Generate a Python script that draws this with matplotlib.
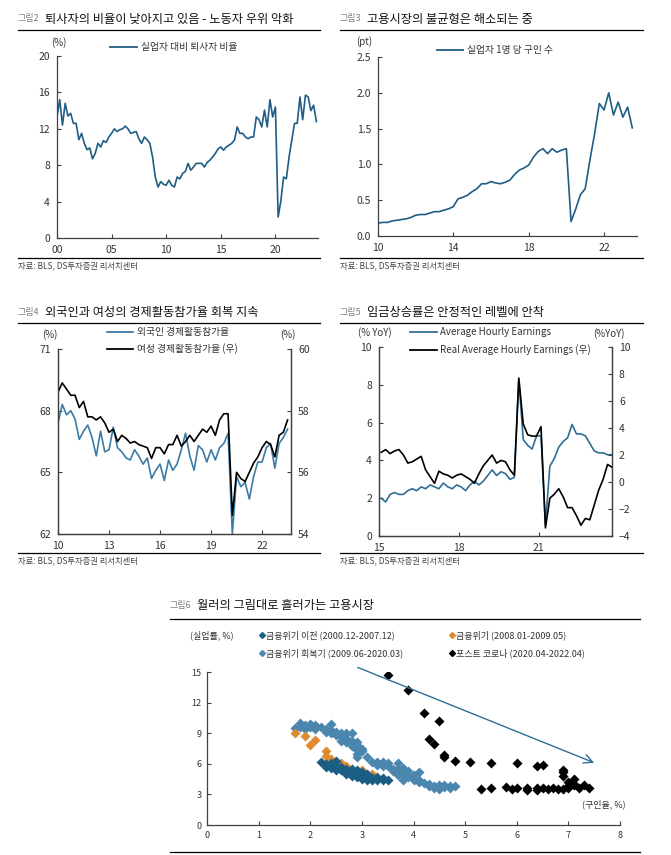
import numpy as np
import matplotlib
matplotlib.use("Agg")
import matplotlib.pyplot as plt
from matplotlib.lines import Line2D

plt.rcParams['font.family'] = ['Noto Sans CJK KR', 'DejaVu Sans']

# ---- data ----
# 그림2: 실업자 대비 퇴사자 비율 (%), quarterly from 2000
quits_start = 2000
quits_ratio = [13.3, 15.2, 12.4, 14.8, 13.4, 13.7, 12.6, 12.6,
               10.8, 11.5, 10.4, 9.7, 9.9, 8.7, 9.3, 10.4,
               10.0, 10.7, 10.5, 11.1, 11.5, 12.0, 11.7, 11.9,
               12.0, 12.3, 12.0, 11.5, 11.6, 11.7, 10.9, 10.4,
               11.1, 10.8, 10.4, 8.9, 6.7, 5.6, 6.2, 5.9,
               5.8, 6.35, 5.8, 5.6, 6.7, 6.5, 7.1, 7.3,
               8.2, 7.45, 7.8, 8.2, 8.2, 8.2, 7.8, 8.3,
               8.55, 8.9, 9.3, 9.8, 10.0, 9.65, 10.0, 10.2,
               10.4, 10.75, 12.2, 11.5, 11.5, 11.1, 10.9, 11.1,
               11.1, 13.3, 13.0, 12.2, 14.05, 12.2, 15.2, 13.3,
               14.4, 2.3, 4.1, 6.7, 6.5, 8.9, 10.75, 12.6,
               12.6, 15.5, 13.0, 15.7, 15.5, 14.0, 14.6, 12.8]

# 그림3: 실업자 1명 당 구인 수 (pt), quarterly from 2010
ratio_start = 2010
openings_per_unemp = [0.18, 0.19, 0.19, 0.21, 0.22, 0.23, 0.24, 0.26,
                      0.29, 0.30, 0.30, 0.32, 0.34, 0.34, 0.36, 0.38,
                      0.41, 0.52, 0.54, 0.57, 0.62, 0.66, 0.73, 0.73,
                      0.76, 0.74, 0.73, 0.75, 0.78, 0.86, 0.92, 0.95,
                      0.99, 1.10, 1.18, 1.22, 1.15, 1.22, 1.17, 1.20,
                      1.22, 0.20, 0.38, 0.58, 0.66, 1.06, 1.43, 1.85,
                      1.76, 2.00, 1.69, 1.87, 1.66, 1.80, 1.51]

# 그림4: 경제활동참가율, quarterly from 2010
lfpr_start = 2010
foreign_lfpr = [67.4, 68.3, 67.8, 68.0, 67.6, 66.6, 67.0, 67.3,
                66.7, 65.8, 67.0, 66.0, 66.1, 67.2, 66.2, 66.0,
                65.7, 65.6, 66.1, 65.8, 65.4, 65.7, 64.7, 65.1,
                65.4, 64.6, 65.6, 65.1, 65.4, 66.1, 66.9, 65.8,
                65.1, 66.3, 66.1, 65.5, 66.1, 65.6, 66.2, 66.4,
                66.9, 62.0, 64.8, 64.3, 64.5, 63.7, 64.8, 65.5,
                65.5, 66.2, 66.4, 65.2, 66.4, 66.7, 67.1]
women_lfpr = [58.6, 58.9, 58.7, 58.5, 58.5, 58.1, 58.3, 57.8,
              57.8, 57.7, 57.8, 57.6, 57.3, 57.4, 57.0, 57.2,
              57.1, 56.95, 57.0, 56.9, 56.85, 56.8, 56.45, 56.8,
              56.8, 56.6, 56.9, 56.9, 57.2, 56.85, 57.0, 57.2,
              57.0, 57.2, 57.4, 57.3, 57.5, 57.2, 57.7, 57.9,
              57.9, 54.6, 56.0, 55.8, 55.7, 56.0, 56.3, 56.5,
              56.8, 57.0, 56.9, 56.5, 57.2, 57.3, 57.7]

# 그림5: 임금상승률 (% YoY), bimonthly from Feb 2015
wage_start = 2015 + 1 / 12
ahe = [2.0, 1.8, 2.2, 2.3, 2.2, 2.2,
       2.4, 2.5, 2.4, 2.6, 2.5, 2.7,
       2.6, 2.5, 2.8, 2.6, 2.5, 2.7,
       2.6, 2.4, 2.7, 2.9, 2.7, 2.9,
       3.2, 3.5, 3.2, 3.4, 3.3, 3.0,
       3.1, 8.3, 5.1, 4.8, 4.6, 5.3,
       5.3, 0.6, 3.7, 4.1, 4.7, 5.0,
       5.2, 5.9, 5.4, 5.4, 5.3, 4.9,
       4.5, 4.4, 4.4, 4.3, 4.3]
real_ahe = [2.2, 2.4, 2.1, 2.3, 2.4, 2.0,
            1.4, 1.5, 1.7, 1.9, 0.9, 0.4,
            -0.1, 0.8, 0.6, 0.5, 0.3, 0.5,
            0.6, 0.4, 0.2, -0.1, 0.6, 1.2,
            1.6, 2.0, 1.4, 1.6, 1.5, 0.9,
            0.5, 7.7, 4.3, 3.5, 3.4, 3.4,
            4.1, -3.4, -1.2, -0.9, -0.5, -1.1,
            -1.9, -1.9, -2.5, -3.2, -2.7, -2.8,
            -1.7, -0.6, 0.2, 1.3, 1.1]

# 그림6: 베버리지 곡선 (구인율, 실업률)
pre_x = [2.2, 2.3, 2.4, 2.4, 2.5, 2.5, 2.5, 2.6, 2.6, 2.6, 2.7, 2.7, 2.8, 2.8,
         2.9, 2.9, 3.0, 3.0, 3.1, 3.1, 3.2, 3.2, 3.3, 3.3, 3.4, 3.4, 3.5, 2.3,
         2.4, 2.5, 2.7, 2.8, 2.9, 3.0, 3.2, 3.1, 3.3]
pre_y = [6.2, 6.0, 5.9, 6.1, 6.3, 5.8, 5.6, 5.7, 5.5, 5.4, 5.5, 5.3, 5.5, 5.2,
         5.4, 5.0, 5.2, 4.9, 5.0, 4.7, 4.6, 4.4, 4.7, 4.5, 4.6, 4.4, 4.4, 5.7,
         5.6, 5.4, 5.0, 4.8, 4.7, 4.5, 4.6, 4.4, 4.4]
crisis_x = [1.7, 1.9, 2.0, 2.1, 2.3, 2.3, 2.3, 2.4, 2.6, 2.7, 2.7, 2.8, 3.0,
            3.0, 3.0, 3.2, 2.5]
crisis_y = [9.0, 8.7, 7.8, 8.3, 7.3, 6.8, 6.1, 6.5, 6.1, 5.8, 5.6, 5.0, 5.4,
            5.2, 4.9, 5.0, 5.9]
recov_x = [1.7, 1.8, 1.8, 1.9, 1.9, 2.0, 2.0, 2.1, 2.1, 2.2, 2.3, 2.3, 2.4, 2.4,
           2.4, 2.5, 2.6, 2.6, 2.6, 2.7, 2.7, 2.7, 2.8, 2.8, 2.8, 2.8, 2.9, 2.9,
           2.9, 2.9, 3.0, 3.0, 2.9, 3.1, 3.2, 3.3, 3.3, 3.4, 3.4, 3.5, 3.6, 3.7,
           3.7, 3.7, 3.7, 3.8, 3.8, 3.8, 3.9, 3.9, 4.0, 4.0, 4.1, 4.1, 4.1, 4.2,
           4.3, 4.3, 4.4, 4.4, 4.5, 4.5, 4.6, 4.6, 4.7, 4.7, 4.8, 3.5, 3.6, 2.5]
recov_y = [9.5, 10.0, 9.6, 9.8, 9.4, 9.9, 9.6, 9.8, 9.4, 9.6, 9.4, 9.1, 9.9, 9.3,
           9.0, 9.1, 9.0, 8.6, 8.2, 9.0, 8.5, 8.1, 9.0, 8.2, 7.9, 7.7, 8.1, 7.8,
           7.4, 7.0, 7.5, 7.3, 6.7, 6.7, 6.2, 6.2, 5.9, 6.2, 5.8, 6.1, 5.5, 6.1,
           5.5, 5.2, 4.9, 5.6, 5.0, 4.4, 5.3, 4.7, 4.9, 4.4, 5.2, 4.4, 4.2, 4.1,
           3.8, 4.0, 3.6, 3.8, 3.9, 3.5, 3.7, 3.9, 3.6, 3.8, 3.8, 5.8, 5.3, 8.8]
covid_x = [3.5, 3.9, 4.2, 4.5, 4.3, 4.4, 4.6, 4.6, 4.8, 5.1, 5.5, 6.0, 6.4, 6.5,
           6.9, 6.9, 6.9, 7.0, 7.1, 7.1, 7.2, 7.3, 7.4, 5.3, 5.5, 5.8, 5.9, 6.0,
           6.2, 6.2, 6.4, 6.4, 6.5, 6.6, 6.7, 6.8, 6.9, 7.0, 7.0, 7.1]
covid_y = [14.7, 13.2, 11.0, 10.2, 8.4, 7.9, 6.9, 6.7, 6.3, 6.2, 6.1, 6.1, 5.8, 5.9,
           5.4, 5.2, 4.8, 4.2, 4.5, 3.9, 3.6, 3.9, 3.6, 3.5, 3.6, 3.7, 3.5, 3.6,
           3.6, 3.4, 3.6, 3.4, 3.6, 3.5, 3.6, 3.5, 3.5, 3.6, 3.8, 4.0]

W, H = 671, 855
fig = plt.figure(figsize=(W / 100, H / 100), dpi=100)
TXT = '#333333'
SPINE = '#404040'
BLUE = '#1f5d84'


def box(x0, y0, x1, y1):
    return [x0 / W, 1 - y1 / H, (x1 - x0) / W, (y1 - y0) / H]


def ftext(x, y, s, **kw):
    kw.setdefault('color', TXT)
    kw.setdefault('va', 'center')
    fig.text(x / W, 1 - y / H, s, **kw)


def hline(x0, x1, y, lw=0.9, color='black'):
    fig.add_artist(Line2D([x0 / W, x1 / W], [1 - y / H, 1 - y / H], color=color, lw=lw))


def header(x, y, num, title, x1, ybot=None):
    ftext(x, y, num, fontsize=6.5, color='#7f7f7f')
    ftext(x + 27, y, title, fontsize=8.8, color='#111111')
    hline(x, x1, y + 11)
    if ybot is not None:
        hline(x, x1, ybot)
        ftext(x, ybot + 8, '자료: BLS, DS투자증권 리서치센터', fontsize=6, color='#444444')


def style(ax, right=False):
    ax.spines['top'].set_visible(False)
    ax.spines['right'].set_visible(right)
    for s in ax.spines.values():
        s.set_color(SPINE)
        s.set_linewidth(0.9)
    ax.tick_params(direction='in', length=3, width=0.8, colors=SPINE,
                   labelcolor=TXT, labelsize=7.5, pad=5)
    ax.set_facecolor('none')


def legline(x0, x1, y, color, lw=1.3):
    fig.add_artist(Line2D([x0 / W, x1 / W], [1 - y / H, 1 - y / H], color=color, lw=lw))


# ---- 그림2 ----
header(18, 19, '그림2', '퇴사자의 비율이 낮아지고 있음 - 노동자 우위 악화', 320, 258)
ax = fig.add_axes(box(57, 56, 318, 238))
xs = quits_start + np.arange(len(quits_ratio)) / 4
ax.plot(xs, quits_ratio, color=BLUE, lw=1.2)
ax.set_xlim(2000, 2023.9)
ax.set_ylim(0, 20)
ax.set_yticks([0, 4, 8, 12, 16, 20])
ax.set_xticks([2000, 2005, 2010, 2015, 2020])
ax.set_xticklabels(['00', '05', '10', '15', '20'])
style(ax)
ftext(59, 43, '(%)', fontsize=7, ha='center')
legline(110, 137, 47, BLUE)
ftext(141, 47, '실업자 대비 퇴사자 비율', fontsize=7)

# ---- 그림3 ----
header(340, 19, '그림3', '고용시장의 불균형은 해소되는 중', 643, 258)
ax = fig.add_axes(box(378, 57, 637, 236))
xs = ratio_start + np.arange(len(openings_per_unemp)) / 4
ax.plot(xs, openings_per_unemp, color=BLUE, lw=1.2)
ax.set_xlim(2010, 2023.75)
ax.set_ylim(0, 2.5)
ax.set_yticks([0, 0.5, 1.0, 1.5, 2.0, 2.5])
ax.set_yticklabels(['0.0', '0.5', '1.0', '1.5', '2.0', '2.5'])
ax.set_xticks([2010, 2014, 2018, 2022])
ax.set_xticklabels(['10', '14', '18', '22'])
style(ax)
ftext(364, 42, '(pt)', fontsize=7, ha='center')
legline(437, 463, 50, BLUE)
ftext(467, 50, '실업자 1명 당 구인 수', fontsize=7)

# ---- 그림4 ----
header(18, 312, '그림4', '외국인과 여성의 경제활동참가율 회복 지속', 320, 553)
ax = fig.add_axes(box(58, 349, 291, 534))
ax2 = ax.twinx()
xs = lfpr_start + np.arange(len(foreign_lfpr)) / 4
ax.plot(xs, foreign_lfpr, color='#3a7ca5', lw=1.2)
ax2.plot(xs, women_lfpr, color='black', lw=1.2)
ax.set_xlim(2010, 2023.7)
ax.set_ylim(62, 71)
ax.set_yticks([62, 65, 68, 71])
ax2.set_ylim(54, 60)
ax2.set_yticks([54, 56, 58, 60])
ax.set_xticks([2010, 2013, 2016, 2019, 2022])
ax.set_xticklabels(['10', '13', '16', '19', '22'])
style(ax, right=True)
style(ax2, right=True)
ftext(50, 335, '(%)', fontsize=7, ha='center')
ftext(288, 335, '(%)', fontsize=7, ha='center')
legline(107, 133, 332, '#3a7ca5')
ftext(137, 332, '외국인 경제활동참가율', fontsize=7)
legline(107, 133, 349, 'black')
ftext(137, 349, '여성 경제활동참가율 (우)', fontsize=7)

# ---- 그림5 ----
header(340, 312, '그림5', '임금상승률은 안정적인 레벨에 안착', 643, 553)
ax = fig.add_axes(box(379, 347, 612, 536))
ax2 = ax.twinx()
xs = wage_start + np.arange(len(ahe)) / 6
ax.plot(xs, ahe, color='#2f6f96', lw=1.2)
ax2.plot(xs, real_ahe, color='black', lw=1.2)
ax.set_xlim(2015, 2023.75)
ax.set_ylim(0, 10)
ax.set_yticks([0, 2, 4, 6, 8, 10])
ax2.set_ylim(-4, 10)
ax2.set_yticks([-4, -2, 0, 2, 4, 6, 8, 10])
ax.set_xticks([2015, 2018, 2021])
ax.set_xticklabels(['15', '18', '21'])
style(ax, right=True)
style(ax2, right=True)
ftext(375, 333, '(% YoY)', fontsize=7, ha='center')
ftext(609, 334, '(%YoY)', fontsize=7, ha='center')
legline(410, 437, 332, '#2f6f96')
ftext(440, 332, 'Average Hourly Earnings', fontsize=7)
legline(410, 437, 350, 'black')
ftext(440, 350, 'Real Average Hourly Earnings (우)', fontsize=7)

# ---- 그림6 ----
ftext(170, 605, '그림6', fontsize=6.5, color='#7f7f7f')
ftext(197, 605, '월러의 그림대로 흘러가는 고용시장', fontsize=8.8, color='#111111')
hline(170, 640, 619)
hline(170, 640, 852)
ax = fig.add_axes(box(207, 672, 620, 825))
mk = dict(marker='D', s=26, linewidths=0)
ax.scatter(recov_x, recov_y, color='#4a86ae', **mk)
ax.scatter(crisis_x, crisis_y, color='#e08a2e', **mk)
ax.scatter(pre_x, pre_y, color='#1b5e84', **mk)
ax.scatter(covid_x, covid_y, color='black', **mk)
ax.annotate('', xy=(7.55, 6.0), xytext=(2.87, 15.55),
            arrowprops=dict(arrowstyle='->', color='#2f6f96', lw=1.0,
                            mutation_scale=16), annotation_clip=False)
ax.set_xlim(0, 8)
ax.set_ylim(0, 15)
ax.set_xticks(range(0, 9))
ax.set_yticks([0, 3, 6, 9, 12, 15])
style(ax)
ax.tick_params(labelsize=6.5, pad=4)
ax.text(7.68, 2.0, '(구인율, %)', fontsize=6.5, color=TXT, ha='center', va='center')
ftext(212, 635, '(실업률, %)', fontsize=6.5, ha='center')
leg6 = [(262, 635, '#1b5e84', '금융위기 이전 (2000.12-2007.12)'),
        (452, 635, '#e08a2e', '금융위기 (2008.01-2009.05)'),
        (262, 653, '#4a86ae', '금융위기 회복기 (2009.06-2020.03)'),
        (452, 653, 'black', '포스트 코로나 (2020.04-2022.04)')]
for lx, ly, c, s in leg6:
    fig.add_artist(Line2D([lx / W], [1 - ly / H], marker='D', markersize=3,
                          color=c, lw=0))
    ftext(lx + 4, ly, s, fontsize=6.5)

fig.savefig('out.png', dpi=100)
